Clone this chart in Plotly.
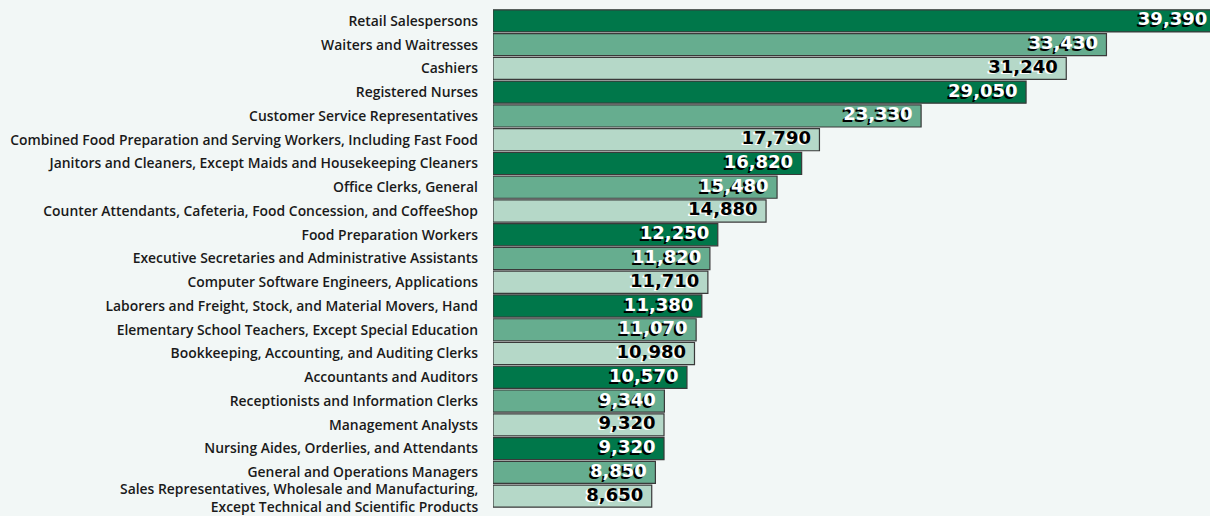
import plotly.graph_objects as go

occupations = [
    "Retail Salespersons",
    "Waiters and Waitresses",
    "Cashiers",
    "Registered Nurses",
    "Customer Service Representatives",
    "Combined Food Preparation and Serving Workers, Including Fast Food",
    "Janitors and Cleaners, Except Maids and Housekeeping Cleaners",
    "Office Clerks, General",
    "Counter Attendants, Cafeteria, Food Concession, and CoffeeShop",
    "Food Preparation Workers",
    "Executive Secretaries and Administrative Assistants",
    "Computer Software Engineers, Applications",
    "Laborers and Freight, Stock, and Material Movers, Hand",
    "Elementary School Teachers, Except Special Education",
    "Bookkeeping, Accounting, and Auditing Clerks",
    "Accountants and Auditors",
    "Receptionists and Information Clerks",
    "Management Analysts",
    "Nursing Aides, Orderlies, and Attendants",
    "General and Operations Managers",
    "Sales Representatives, Wholesale and Manufacturing,<br>Except Technical and Scientific Products",
]
employment = [39390, 33430, 31240, 29050, 23330, 17790, 16820, 15480, 14880, 12250,
              11820, 11710, 11380, 11070, 10980, 10570, 9340, 9320, 9320, 8850, 8650]

DARK, MEDIUM, LIGHT = "#00774a", "#66ad8f", "#b5d8c8"
shade_cycle = [DARK, MEDIUM, LIGHT]
bar_colors = [shade_cycle[i % 3] for i in range(len(employment))]
BG = "#f2f7f6"
label_font = dict(family="Open Sans", size=13.9, weight=600, color="#1a1a1a")

fig = go.Figure()
fig.add_trace(go.Bar(
    x=employment, y=occupations, orientation="h",
    marker=dict(color=bar_colors, line=dict(color="#3a3a3a", width=1.2)),
    hoverinfo="skip", showlegend=False,
))

value_font = dict(family="DejaVu Sans", size=18, weight="bold")
light_idx = [i for i, c in enumerate(bar_colors) if c == LIGHT]
other_idx = [i for i, c in enumerate(bar_colors) if c != LIGHT]

for idx, color, shadow in [
    (other_idx, "white", "-2px 2px 0px #000000"),
    (light_idx, "black", "-2px 1px 0px #ffffff"),
]:
    fig.add_trace(go.Scatter(
        x=[employment[i] for i in idx],
        y=[occupations[i] for i in idx],
        mode="markers+text",
        marker=dict(size=12, opacity=0),
        text=[f"{employment[i]:,}" for i in idx],
        textposition="middle left",
        textfont=dict(**value_font, color=color, shadow=shadow),
        cliponaxis=False, hoverinfo="skip", showlegend=False,
    ))

# two-line category label: drawn as an annotation so it can sit a little lower
tick_text = occupations[:-1] + [""]
fig.add_annotation(
    x=0, y=occupations[-1], xref="x", yref="y",
    text=occupations[-1], showarrow=False,
    xanchor="right", yanchor="middle", align="right",
    xshift=-13, yshift=-1, borderpad=0, font=label_font,
)

n = len(occupations)
fig.update_layout(
    width=1216, height=516,
    margin=dict(l=493, r=0, t=9, b=8, autoexpand=False),
    paper_bgcolor=BG, plot_bgcolor=BG,
    bargap=0.07,
    xaxis=dict(range=[0, 39400], visible=False, fixedrange=True),
    yaxis=dict(
        range=[n - 0.5, -0.5], showgrid=False, zeroline=False, showline=False,
        tickmode="array", tickvals=occupations, ticktext=tick_text,
        ticks="", ticklabelstandoff=14, automargin=False, fixedrange=True,
        tickfont=label_font,
    ),
)

fig.write_html(
    "out.html",
    config={"displayModeBar": False},
    post_script="document.body.style.margin='0';document.body.style.overflow='hidden';",
)
